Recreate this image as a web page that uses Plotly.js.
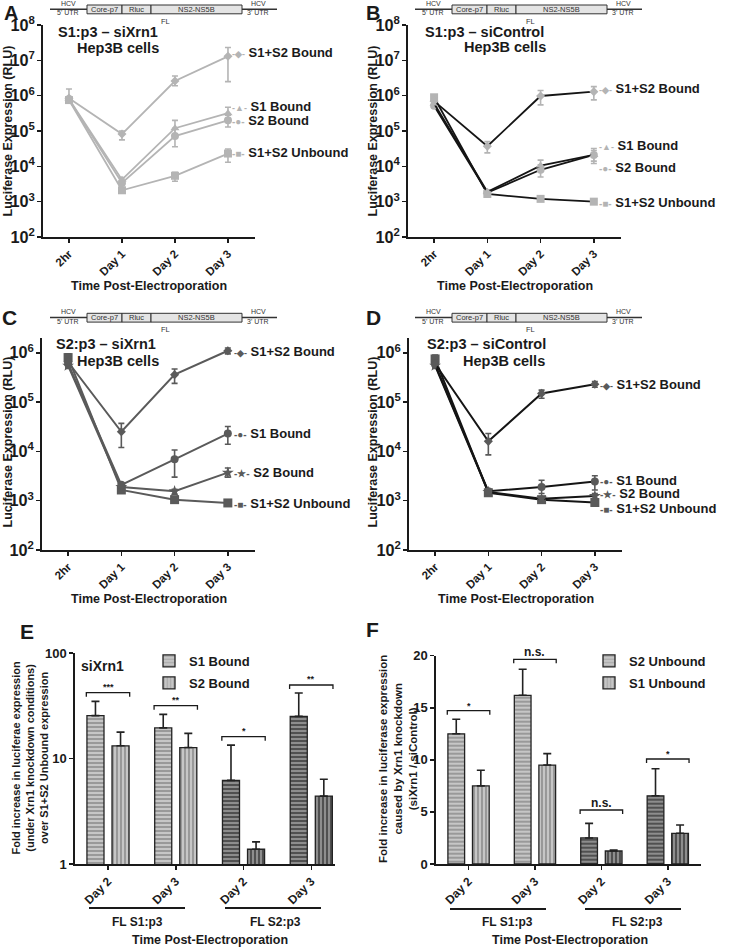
<!DOCTYPE html>
<html><head><meta charset="utf-8">
<script src="https://cdn.plot.ly/plotly-3.0.1.min.js"></script>
<style>html,body{margin:0;padding:0;background:#fff}#chart{width:733px;height:950px}</style>
</head><body><div id="chart"></div>
<script>
// ---------------- DATA ----------------
const timepoints = ['2hr', 'Day 1', 'Day 2', 'Day 3'];
const seriesNames = ['S1+S2 Bound', 'S1 Bound', 'S2 Bound', 'S1+S2 Unbound'];

// Panel A: S1:p3 - siXrn1
const A_s1s2Bound = [8.5e5, 8.2e4, 2.6e6, 1.3e7];
const A_s1s2BoundHi = [1.55e6, 1.0e5, 3.6e6, 2.3e7];
const A_s1s2BoundLo = [6.2e5, 5.6e4, 1.9e6, 2.5e6];
const A_s1Bound = [8.0e5, 4.2e3, 1.2e5, 3.2e5];
const A_s1BoundHi = [9.5e5, 4.8e3, 2.0e5, 4.7e5];
const A_s1BoundLo = [6.8e5, 3.6e3, 7.7e4, 2.2e5];
const A_s2Bound = [7.8e5, 3.4e3, 7.2e4, 2.0e5];
const A_s2BoundHi = [9.0e5, 3.9e3, 1.2e5, 2.8e5];
const A_s2BoundLo = [6.6e5, 2.9e3, 3.6e4, 1.3e5];
const A_unbound = [7.5e5, 2.1e3, 5.4e3, 2.3e4];
const A_unboundHi = [8.5e5, 2.4e3, 6.8e3, 3.1e4];
const A_unboundLo = [6.5e5, 1.9e3, 3.8e3, 1.3e4];

// Panel B: S1:p3 - siControl
const B_s1s2Bound = [7.0e5, 3.7e4, 9.8e5, 1.3e6];
const B_s1s2BoundHi = [8.5e5, 5.0e4, 1.4e6, 1.8e6];
const B_s1s2BoundLo = [5.8e5, 2.4e4, 5.5e5, 7.6e5];
const B_s1Bound = [6.0e5, 1.9e3, 1.05e4, 2.1e4];
const B_s1BoundHi = [7.0e5, 2.1e3, 1.5e4, 3.2e4];
const B_s1BoundLo = [5.0e5, 1.7e3, 7.5e3, 1.2e4];
const B_s2Bound = [5.2e5, 1.8e3, 8.0e3, 2.1e4];
const B_s2BoundHi = [6.0e5, 2.0e3, 1.1e4, 2.8e4];
const B_s2BoundLo = [4.5e5, 1.6e3, 5.0e3, 1.4e4];
const B_unbound = [9.0e5, 1.65e3, 1.2e3, 1.0e3];
const B_unboundHi = [1.0e6, 1.8e3, 1.3e3, 1.1e3];
const B_unboundLo = [8.0e5, 1.5e3, 1.1e3, 9.5e2];

// Panel C: S2:p3 - siXrn1
const C_s1s2Bound = [6.5e5, 2.5e4, 3.6e5, 1.1e6];
const C_s1s2BoundHi = [7.5e5, 3.7e4, 4.7e5, 1.25e6];
const C_s1s2BoundLo = [5.5e5, 1.2e4, 2.4e5, 9.5e5];
const C_s1Bound = [6.0e5, 2.1e3, 6.9e3, 2.3e4];
const C_s1BoundHi = [7.0e5, 2.3e3, 1.07e4, 3.2e4];
const C_s1BoundLo = [5.0e5, 1.9e3, 3.0e3, 1.4e4];
const C_s2Bound = [5.5e5, 1.9e3, 1.55e3, 3.7e3];
const C_s2BoundHi = [6.5e5, 2.1e3, 1.7e3, 4.6e3];
const C_s2BoundLo = [4.8e5, 1.7e3, 1.35e3, 3.0e3];
const C_unbound = [8.0e5, 1.65e3, 1.05e3, 9.0e2];
const C_unboundHi = [9.5e5, 1.8e3, 1.12e3, 9.5e2];
const C_unboundLo = [6.8e5, 1.5e3, 9.8e2, 8.5e2];

// Panel D: S2:p3 - siControl
const D_s1s2Bound = [6.0e5, 1.6e4, 1.5e5, 2.3e5];
const D_s1s2BoundHi = [7.0e5, 2.3e4, 1.75e5, 2.6e5];
const D_s1s2BoundLo = [5.2e5, 8.5e3, 1.2e5, 2.0e5];
const D_s1Bound = [5.8e5, 1.55e3, 1.9e3, 2.45e3];
const D_s1BoundHi = [6.5e5, 1.7e3, 2.6e3, 3.2e3];
const D_s1BoundLo = [5.0e5, 1.4e3, 1.4e3, 1.65e3];
const D_s2Bound = [5.5e5, 1.5e3, 1.1e3, 1.25e3];
const D_s2BoundHi = [6.2e5, 1.6e3, 1.2e3, 1.4e3];
const D_s2BoundLo = [4.8e5, 1.4e3, 1.0e3, 1.1e3];
const D_unbound = [7.5e5, 1.45e3, 1.05e3, 9.2e2];
const D_unboundHi = [9.0e5, 1.55e3, 1.12e3, 1.05e3];
const D_unboundLo = [6.2e5, 1.35e3, 9.8e2, 8.0e2];

// Panel E: fold increase over S1+S2 Unbound (siXrn1)
const barDays = ['Day 2', 'Day 3', 'Day 2', 'Day 3'];
const constructs = ['FL S1:p3', 'FL S2:p3'];
const E_s1Bound = [25.5, 19.5, 6.2, 25.1];
const E_s1BoundHi = [34.8, 26.2, 13.4, 41.8];
const E_s2Bound = [13.2, 12.7, 1.38, 4.4];
const E_s2BoundHi = [17.8, 17.3, 1.62, 6.35];
const E_sig = ['***', '**', '*', '**'];

// Panel F: fold increase siXrn1 / siControl
const F_s2Unbound = [12.5, 16.2, 2.5, 6.55];
const F_s2UnboundHi = [13.9, 18.7, 3.9, 9.15];
const F_s1Unbound = [7.5, 9.5, 1.25, 2.95];
const F_s1UnboundHi = [9.0, 10.6, 1.35, 3.75];
const F_sig = ['*', 'n.s.', 'n.s.', '*'];

// ---------------- LAYOUT HELPERS ----------------
const W = 733, H = 950;
const X = p => p / W;
const Y = p => 1 - p / H;
const FONT = '"Liberation Sans", Arial, Helvetica, sans-serif';
const INK = '#1a1a1a';

const traces = [];
const annotations = [];
const shapes = [];

function lineTrace(xa, ya, y, hi, lo, st) {
  return {
    type: 'scatter', mode: 'lines+markers', x: timepoints, y: y,
    xaxis: xa, yaxis: ya, showlegend: false, cliponaxis: false,
    line: {color: st.line, width: st.lw},
    marker: {symbol: st.sym, size: st.size, color: st.mark, line: {width: 0}},
    error_y: {type: 'data', symmetric: false,
      array: hi.map((h, i) => h - y[i]), arrayminus: lo.map((l, i) => y[i] - l),
      color: st.err, thickness: 1.6, width: 3}
  };
}

function addLinePanel(p) {
  for (let k = p.series.length - 1; k >= 0; k--) {
    const s = p.series[k];
    traces.push(lineTrace(p.xa, p.ya, s.y, s.hi, s.lo, {
      line: p.line, lw: p.lw, mark: p.mark, err: p.err, sym: s.sym, size: s.size
    }));
  }
  p.series.forEach((s, k) => {
    annotations.push({
      xref: 'paper', yref: 'paper', x: X(p.labelX), y: Y(p.labelY[k]),
      xanchor: 'left', yanchor: 'middle', showarrow: false,
      text: '<span style="color:' + p.mark + ';font-size:' + s.gsize + 'px">-' + s.glyph + '-</span> ' + seriesNames[k],
      font: {family: FONT, size: 13, color: INK, weight: 'bold'}
    });
  });
}

const symA = [
  {sym: 'diamond', size: 7, glyph: '\u25C6', gsize: 9},
  {sym: 'triangle-up', size: 8, glyph: '\u25B2', gsize: 9},
  {sym: 'circle', size: 8, glyph: '\u25CF', gsize: 10},
  {sym: 'square', size: 8, glyph: '\u25A0', gsize: 10}
];
const symC = [
  {sym: 'diamond', size: 7, glyph: '\u25C6', gsize: 9},
  {sym: 'circle', size: 8, glyph: '\u25CF', gsize: 10},
  {sym: 'star', size: 9, glyph: '\u2605', gsize: 10},
  {sym: 'square', size: 9, glyph: '\u25A0', gsize: 10}
];
function mk(sy, list) { return list.map((s, k) => Object.assign({}, sy[k], s)); }

const LIGHT = '#b4b4b4', DARK = '#5a5a5a', BLACK = '#151515';

addLinePanel({xa: 'x', ya: 'y', line: LIGHT, lw: 1.8, mark: LIGHT, err: LIGHT, labelX: 230,
  labelY: [52.7, 106.7, 120.7, 152.7],
  series: mk(symA, [
    {y: A_s1s2Bound, hi: A_s1s2BoundHi, lo: A_s1s2BoundLo},
    {y: A_s1Bound, hi: A_s1BoundHi, lo: A_s1BoundLo},
    {y: A_s2Bound, hi: A_s2BoundHi, lo: A_s2BoundLo},
    {y: A_unbound, hi: A_unboundHi, lo: A_unboundLo}])});
addLinePanel({xa: 'x2', ya: 'y2', line: BLACK, lw: 1.8, mark: LIGHT, err: LIGHT, labelX: 597,
  labelY: [88.7, 145.3, 167.3, 202.7],
  series: mk(symA, [
    {y: B_s1s2Bound, hi: B_s1s2BoundHi, lo: B_s1s2BoundLo},
    {y: B_s1Bound, hi: B_s1BoundHi, lo: B_s1BoundLo},
    {y: B_s2Bound, hi: B_s2BoundHi, lo: B_s2BoundLo},
    {y: B_unbound, hi: B_unboundHi, lo: B_unboundLo}])});
addLinePanel({xa: 'x3', ya: 'y3', line: DARK, lw: 2, mark: DARK, err: DARK, labelX: 232,
  labelY: [351, 433.3, 472.7, 503.3],
  series: mk(symC, [
    {y: C_s1s2Bound, hi: C_s1s2BoundHi, lo: C_s1s2BoundLo},
    {y: C_s1Bound, hi: C_s1BoundHi, lo: C_s1BoundLo},
    {y: C_s2Bound, hi: C_s2BoundHi, lo: C_s2BoundLo},
    {y: C_unbound, hi: C_unboundHi, lo: C_unboundLo}])});
addLinePanel({xa: 'x4', ya: 'y4', line: BLACK, lw: 2, mark: DARK, err: DARK, labelX: 598,
  labelY: [385, 480, 493.3, 508.3],
  series: mk(symC, [
    {y: D_s1s2Bound, hi: D_s1s2BoundHi, lo: D_s1s2BoundLo},
    {y: D_s1Bound, hi: D_s1BoundHi, lo: D_s1BoundLo},
    {y: D_s2Bound, hi: D_s2BoundHi, lo: D_s2BoundLo},
    {y: D_unbound, hi: D_unboundHi, lo: D_unboundLo}])});

// ---------------- BARS ----------------
const barX = barDays.map((_, i) => i);
const barConstruct = barDays.map((_, i) => constructs[Math.floor(i / 2)]);
const barFill = barConstruct.map(c => c === constructs[0] ? '#c6c6c6' : '#505050');
const barStripe = barConstruct.map(c => c === constructs[0] ? '#858585' : '#202020');

function barTrace(xa, ya, y, hi, name, shape, legend, group) {
  return {
    type: 'bar', x: barX, y: y, xaxis: xa, yaxis: ya, name: name,
    legend: legend, legendgroup: group, showlegend: true,
    marker: {color: barFill, line: {color: '#222', width: 1.3},
      pattern: {shape: shape, bgcolor: barFill, fgcolor: barStripe, size: 4, solidity: 0.35, fillmode: 'overlay'}},
    error_y: {type: 'data', symmetric: false, array: hi.map((h, i) => h - y[i]),
      arrayminus: y.map(() => 0), color: '#222', thickness: 1.6, width: 4}
  };
}
traces.push(barTrace('x5', 'y5', E_s1Bound, E_s1BoundHi, 'S1 Bound', '-', 'legend', 'e1'));
traces.push(barTrace('x5', 'y5', E_s2Bound, E_s2BoundHi, 'S2 Bound', '|', 'legend', 'e2'));
traces.push(barTrace('x6', 'y6', F_s2Unbound, F_s2UnboundHi, 'S2 Unbound', '-', 'legend2', 'f1'));
traces.push(barTrace('x6', 'y6', F_s1Unbound, F_s1UnboundHi, 'S1 Unbound', '|', 'legend2', 'f2'));

// significance brackets (y in pixel rows of the page)
function addSig(xa, labels, bracketPy, textPy, fsize) {
  labels.forEach((lab, i) => {
    const y0 = Y(bracketPy[i]), yt = Y(bracketPy[i] + 4);
    shapes.push({type: 'path', xref: xa, yref: 'paper',
      path: `M ${i - 0.32},${yt} L ${i - 0.32},${y0} L ${i + 0.32},${y0} L ${i + 0.32},${yt}`,
      line: {color: INK, width: 1.3}});
    annotations.push({xref: xa, yref: 'paper', x: i, y: Y(textPy[i]), showarrow: false,
      xanchor: 'center', yanchor: 'middle', text: lab,
      font: {family: FONT, size: fsize[i], color: INK, weight: 'bold'}});
  });
}
addSig('x5', E_sig, [692.7, 705.7, 736.7, 685], [687, 699.5, 731, 678.5], [9, 9, 9, 9]);
addSig('x6', F_sig, [710.7, 659.3, 810, 759], [705.5, 652, 802.5, 753.5], [9, 12, 12, 9]);

// ---------------- DECORATIONS ----------------
function gene(ox, oy) {
  const t = (x, y, s, size) => annotations.push({xref: 'paper', yref: 'paper', x: X(ox + x), y: Y(oy + y),
    text: s, showarrow: false, xanchor: 'center', yanchor: 'middle',
    font: {family: FONT, size: size, color: '#333'}});
  shapes.push({type: 'line', xref: 'paper', yref: 'paper', x0: X(ox + 50), x1: X(ox + 277),
    y0: Y(oy + 9.3), y1: Y(oy + 9.3), line: {color: '#333', width: 1.5}});
  [[87, 122], [122, 151], [151, 242]].forEach(b => shapes.push({type: 'rect', xref: 'paper', yref: 'paper',
    x0: X(ox + b[0]), x1: X(ox + b[1]), y0: Y(oy + 5), y1: Y(oy + 13.8),
    fillcolor: '#e4e4e4', line: {color: '#333', width: 1}}));
  t(68, 3, 'HCV', 7); t(68, 12.8, "5' UTR", 7);
  t(258, 3, 'HCV', 7); t(258, 12.8, "3' UTR", 7);
  t(104.5, 9.5, 'Core-p7', 7.5); t(136.5, 9.5, 'Rluc', 7.5); t(196.5, 9.5, 'NS2-NS5B', 7.5);
  t(165, 21, 'FL', 7.5);
}
gene(0, 0); gene(365, 0); gene(0, 308.3); gene(365, 308.3);

function txt(x, y, s, size, opts) {
  annotations.push(Object.assign({xref: 'paper', yref: 'paper', x: X(x), y: Y(y), text: s,
    showarrow: false, xanchor: 'center', yanchor: 'middle',
    font: {family: FONT, size: size, color: INK, weight: 'bold'}}, opts || {}));
}
// panel letters
txt(10.5, 0, 'A', 20, {yanchor: 'top'}); txt(373, 0, 'B', 20, {yanchor: 'top'});
txt(9.5, 317, 'C', 21); txt(373, 317, 'D', 21);
txt(27, 631, 'E', 21); txt(372, 629, 'F', 21);
// panel titles
txt(108, 32.5, 'S1:p3 – siXrn1', 14.5); txt(118, 47.5, 'Hep3B cells', 14.5);
txt(484, 32, 'S1:p3 – siControl', 14.5); txt(505, 47, 'Hep3B cells', 14.5);
txt(106, 344, 'S2:p3 – siXrn1', 14.5); txt(118, 361, 'Hep3B cells', 14.5);
txt(486, 344, 'S2:p3 – siControl', 14.5); txt(504, 361, 'Hep3B cells', 14.5);
// axis titles
const yt = 'Luciferase Expression (RLU)';
txt(7.5, 131, yt, 12.5, {textangle: -90}); txt(372.5, 131, yt, 12.5, {textangle: -90});
txt(7.5, 442, yt, 12.5, {textangle: -90}); txt(372.5, 442, yt, 12.5, {textangle: -90});
const xt = 'Time Post-Electroporation';
txt(149, 286, xt, 12.5); txt(515, 286, xt, 12.5);
txt(149, 599, xt, 12.5); txt(516, 599, xt, 12.5);
txt(210, 940, xt, 12.5); txt(570, 940, xt, 12.5);
txt(29.5, 758, 'Fold increase in luciferae expression<br>(under Xrn1 knockdown conditions)<br>over S1+S2 Unbound expression', 11, {textangle: -90});
txt(398, 759, 'Fold increase in luciferase expression<br>caused by Xrn1 knockdown<br>(siXrn1 / siControl)', 11.5, {textangle: -90});
txt(79, 666, 'siXrn1', 14, {xanchor: 'left'});
// construct group lines and labels
[[89, 185, 908, 137, constructs[0]], [225, 321, 908, 275, constructs[1]],
 [450, 546, 909, 507, constructs[0]], [585, 681, 909, 637, constructs[1]]].forEach(g => {
  shapes.push({type: 'line', xref: 'paper', yref: 'paper', x0: X(g[0]), x1: X(g[1]), y0: Y(g[2]), y1: Y(g[2]),
    line: {color: INK, width: 2}});
  txt(g[3], 921.7, g[4], 12);
});

// ---------------- AXES ----------------
const axBase = {showline: true, linecolor: INK, linewidth: 1.6, ticks: 'outside', ticklen: 4,
  tickwidth: 1.5, tickcolor: INK, showgrid: false, zeroline: false, mirror: false,
  tickfont: {family: FONT, size: 12, color: INK, weight: 'bold'}};
function xcat(dom, anchor) {
  return Object.assign({}, axBase, {domain: [X(dom[0]), X(dom[1])], anchor: anchor, type: 'category',
    categoryorder: 'array', categoryarray: timepoints, range: [-0.49, 3.51], tickangle: -45,
    tickfont: {family: FONT, size: 11.5, color: INK, weight: 'bold'}});
}
function ylog(dom, anchor, range) {
  return Object.assign({}, axBase, {domain: [Y(dom[1]), Y(dom[0])], anchor: anchor, type: 'log',
    range: range, dtick: 1, exponentformat: 'power', showexponent: 'all',
    tickfont: {family: FONT, size: 13, color: INK, weight: 'bold'}});
}

const layout = {
  width: W, height: H, margin: {l: 0, r: 0, t: 0, b: 0},
  paper_bgcolor: '#fff', plot_bgcolor: 'rgba(0,0,0,0)',
  font: {family: FONT, color: INK},
  barmode: 'group', bargap: 0.26, bargroupgap: 0.32,
  xaxis: xcat([43, 255], 'y'), yaxis: ylog([25, 237], 'x', [2, 8]),
  xaxis2: xcat([408, 621], 'y2'), yaxis2: ylog([25, 237], 'x2', [2, 8]),
  xaxis3: xcat([42, 255], 'y3'), yaxis3: ylog([338, 550], 'x3', [2, 6.3]),
  xaxis4: xcat([409, 622], 'y4'), yaxis4: ylog([338, 550], 'x4', [2, 6.3]),
  xaxis5: Object.assign({}, axBase, {domain: [X(75), X(335)], anchor: 'y5', range: [-0.487, 3.35],
    tickvals: barX, ticktext: barDays, tickangle: -45,
    tickfont: {family: FONT, size: 12, color: INK, weight: 'bold'}}),
  yaxis5: Object.assign({}, axBase, {domain: [Y(864), Y(653)], anchor: 'x5', type: 'log', range: [0, 2],
    tickvals: [1, 10, 100], ticktext: ['1', '10', '100'],
    tickfont: {family: FONT, size: 13, color: INK, weight: 'bold'}}),
  xaxis6: Object.assign({}, axBase, {domain: [X(436), X(701)], anchor: 'y6', range: [-0.49, 3.5],
    tickvals: barX, ticktext: barDays, tickangle: -45,
    tickfont: {family: FONT, size: 12, color: INK, weight: 'bold'}}),
  yaxis6: Object.assign({}, axBase, {domain: [Y(864), Y(655.7)], anchor: 'x6', range: [0, 20],
    tickvals: [0, 5, 10, 15, 20],
    tickfont: {family: FONT, size: 13, color: INK, weight: 'bold'}}),
  legend: {x: X(149), y: Y(646), xanchor: 'left', yanchor: 'top', bgcolor: 'rgba(0,0,0,0)',
    tracegroupgap: 2, font: {family: FONT, size: 13, color: INK, weight: 'bold'}},
  legend2: {x: X(589), y: Y(646), xanchor: 'left', yanchor: 'top', bgcolor: 'rgba(0,0,0,0)',
    tracegroupgap: 2, font: {family: FONT, size: 13, color: INK, weight: 'bold'}},
  annotations: annotations, shapes: shapes
};

Plotly.newPlot('chart', traces, layout, {displayModeBar: false, staticPlot: true});
</script></body></html>
